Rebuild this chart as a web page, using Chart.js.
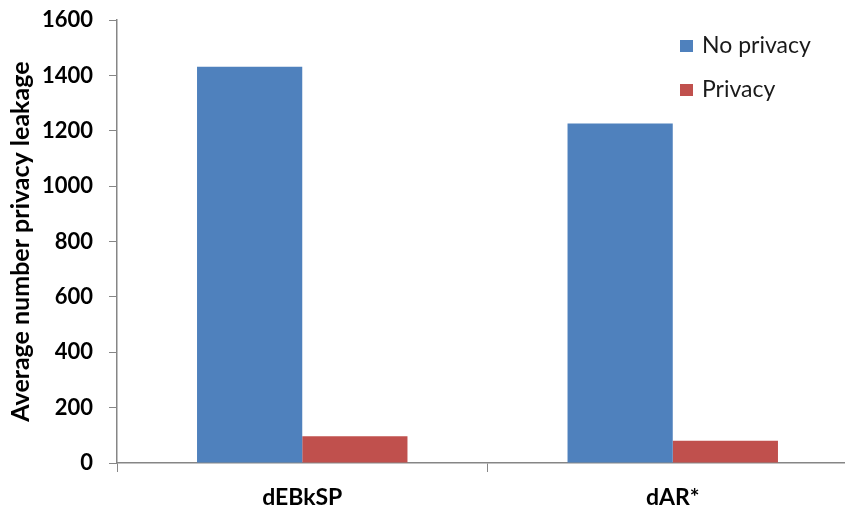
<!DOCTYPE html>
<html>
<head>
<meta charset="utf-8">
<script src="https://cdn.jsdelivr.net/npm/chart.js@4"></script>
<style>
  html, body { margin: 0; padding: 0; background: #fff; overflow: hidden; }
  #wrap { width: 845px; height: 506px; overflow: hidden; position: relative; }
  #box { width: 858px; height: 515px; margin-top: -9px; }
</style>
</head>
<body>
<div id="wrap"><div id="box"><canvas id="myChart"></canvas></div></div>
<script>
// data
const categories = ["dEBkSP", "dAR*"];
const noPrivacy = [1432, 1227];
const privacy = [97, 80];
const seriesNames = ["No privacy", "Privacy"];
const yTicks = [0, 200, 400, 600, 800, 1000, 1200, 1400, 1600];

const FONT = "Lato, 'Open Sans', sans-serif";
const AXIS = "#868686";

// legend drawn on the plot, top right (canvas is shifted up 9px)
const sideLegend = {
    id: "sideLegend",
    afterDraw(chart) {
        const ctx = chart.ctx;
        ctx.save();
        ctx.font = "23px " + FONT;
        ctx.textBaseline = "middle";
        chart.data.datasets.forEach((ds, i) => {
            const y = 55 + i * 44;
            ctx.fillStyle = ds.backgroundColor;
            ctx.fillRect(680, y - 6, 13, 12);
            ctx.fillStyle = "#1a1a1a";
            ctx.fillText(ds.label, 702, y);
        });
        ctx.restore();
    }
};

new Chart(document.getElementById("myChart"), {
    type: "bar",
    data: {
        labels: categories,
        datasets: [
            { label: seriesNames[0], data: noPrivacy, backgroundColor: "#4F81BD" },
            { label: seriesNames[1], data: privacy, backgroundColor: "#C0504D" }
        ]
    },
    options: {
        responsive: true,
        maintainAspectRatio: false,
        animation: false,
        layout: { padding: { top: 0, left: 0, right: 0, bottom: 0 } },
        categoryPercentage: 0.568,
        barPercentage: 1.0,
        plugins: {
            legend: { display: false },
            tooltip: { enabled: false }
        },
        scales: {
            x: {
                grid: { display: true, drawOnChartArea: false, drawTicks: true, tickLength: 9, color: AXIS, offset: true },
                border: { display: true, color: AXIS, width: 1.5 },
                ticks: { color: "#000", font: { family: FONT, size: 23, weight: "bold" }, padding: 12 },
                afterFit(scale) { scale.height = 43; }
            },
            y: {
                min: 0,
                max: 1600,
                afterBuildTicks(scale) { scale.ticks = yTicks.map(v => ({ value: v })); },
                grid: { display: true, drawOnChartArea: false, drawTicks: true, tickLength: 8, color: AXIS },
                border: { display: true, color: AXIS, width: 1.5 },
                ticks: {
                    color: "#000",
                    font: { family: FONT, size: 22, weight: "bold" },
                    padding: 16,
                    callback: v => String(v)
                },
                title: {
                    display: true,
                    text: "Average number privacy leakage",
                    color: "#000",
                    font: { family: FONT, size: 25, weight: "bold" },
                    padding: { top: 6, bottom: 2 }
                },
                afterFit(scale) { scale.width = 117; }
            }
        }
    },
    plugins: [sideLegend]
});
</script>
</body>
</html>
